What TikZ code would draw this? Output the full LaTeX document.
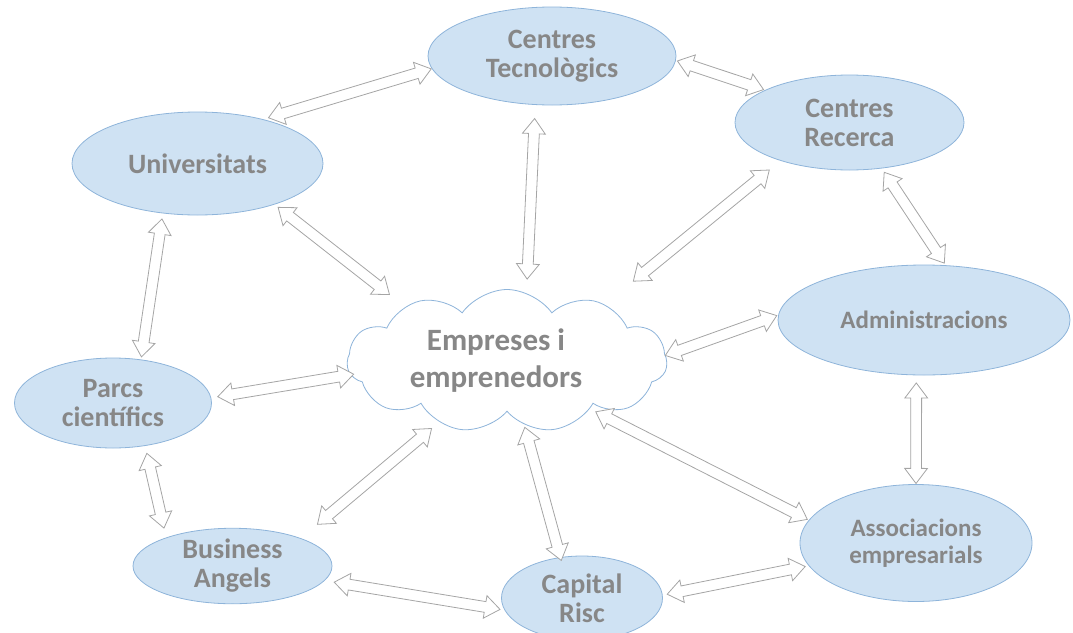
\documentclass[tikz,border=0pt]{standalone}
\usepackage{fontspec}
\setmainfont{Carlito}
\usepackage{tikz}
\usetikzlibrary{calc,shapes.geometric,shapes.symbols,shapes.arrows}
\definecolor{fillblue}{HTML}{CFE2F3}
\definecolor{edgeblue}{HTML}{8EB4DA}
\definecolor{txtgray}{HTML}{878787}
\definecolor{arrgray}{HTML}{A5A5A5}
\tikzset{
  blob/.style={ellipse, draw=edgeblue, fill=fillblue, line width=0.8pt, inner sep=0pt, outer sep=0pt,
    align=center, text=txtgray, font=\bfseries\fontsize{28}{29}\selectfont},
  blobs/.style={blob, font=\bfseries\fontsize{25}{27}\selectfont},
  cloudy/.style={cloud, cloud puffs=11, cloud puff arc=110, cloud ignores aspect, draw=edgeblue,
    fill=white, line width=0.8pt, inner sep=0pt, outer sep=0pt, align=center, text=txtgray,
    font=\bfseries\fontsize{31}{37}\selectfont},
  arr/.style={double arrow, draw=arrgray, fill=white, line width=0.8pt, inner sep=0pt, outer sep=0pt,
    double arrow head extend=6pt, double arrow tip angle=74, minimum width=0pt},
}
% hollow two-way arrow between two anchors, shortened at each end
\newcommand\conn[4]{%
  \path let \p1=($(#1)!#3!(#2)$), \p2=($(#2)!#4!(#1)$), \p3=($(\p2)-(\p1)$),
    \n1={veclen(\x3,\y3)}, \n2={atan2(\y3,\x3)} in
    node[arr, minimum height=\n1, rotate=\n2] at ($(\p1)!0.5!(\p2)$) {\rule{0pt}{10pt}};}

\begin{document}
\begin{tikzpicture}[x=1pt,y=-1pt]
  \useasboundingbox (0,0) rectangle (1073,632);

  \node[cloudy, minimum width=320pt, minimum height=143pt] (cloud) at (507,361)
    {\hspace*{-22pt}Empreses i\\\hspace*{-22pt}emprenedors};

  \node[blob, minimum width=248pt, minimum height=98pt] (ctec) at (552,56) {Centres\\Tecnològics};
  \node[blob, minimum width=229pt, minimum height=95pt] (rec) at (849.5,122.5) {Centres\\Recerca};
  \node[blob, minimum width=251pt, minimum height=103pt] (univ) at (197.5,163.5) {Universitats};
  \node[blobs, minimum width=292pt, minimum height=110pt] (adm) at (924,320) {Administracions};
  \node[blob, minimum width=197pt, minimum height=90pt] (parc) at (113,403) {Parcs\\científics};
  \node[blobs, minimum width=232pt, minimum height=117pt] (assoc) at (916,543) {Associacions\\empresarials};
  \node[blob, minimum width=199pt, minimum height=72pt] (ba) at (232.5,566) {Business\\Angels};
  \node[blob, minimum width=161pt, minimum height=84pt] (cap) at (582,598) {Capital\\Risc};

  \conn{univ.34}{ctec.186.7}{6pt}{1pt}
  \conn{ctec.358.2}{rec.159.4}{2pt}{2pt}
  \conn{ctec.251.3}{cloud.74.1}{14pt}{14pt}
  \conn{univ.332.7}{cloud.152.1}{5pt}{20pt}
  \conn{rec.209.2}{cloud.30}{15pt}{37pt}
  \conn{rec.305.6}{adm.68}{5pt}{3pt}
  \conn{univ.235.5}{parc.57.8}{6pt}{3pt}
  \conn{adm.178.1}{cloud.2.2}{2pt}{0pt}
  \conn{parc.3.3}{cloud.185.6}{7pt}{-3pt}
  \conn{adm.262.8}{assoc.90}{8pt}{1pt}
  \conn{parc.307.1}{ba.157.7}{8pt}{10pt}
  \conn{ba.22.8}{cloud.222.7}{22pt}{10pt}
  \conn{cap.118}{cloud.285.1}{-3pt}{3pt}
  \conn{assoc.168}{cloud.330.9}{2pt}{7pt}
  \conn{ba.351}{cap.189.7}{10pt}{5pt}
  \conn{cap.2.7}{assoc.192.3}{5pt}{4pt}
\end{tikzpicture}
\end{document}
